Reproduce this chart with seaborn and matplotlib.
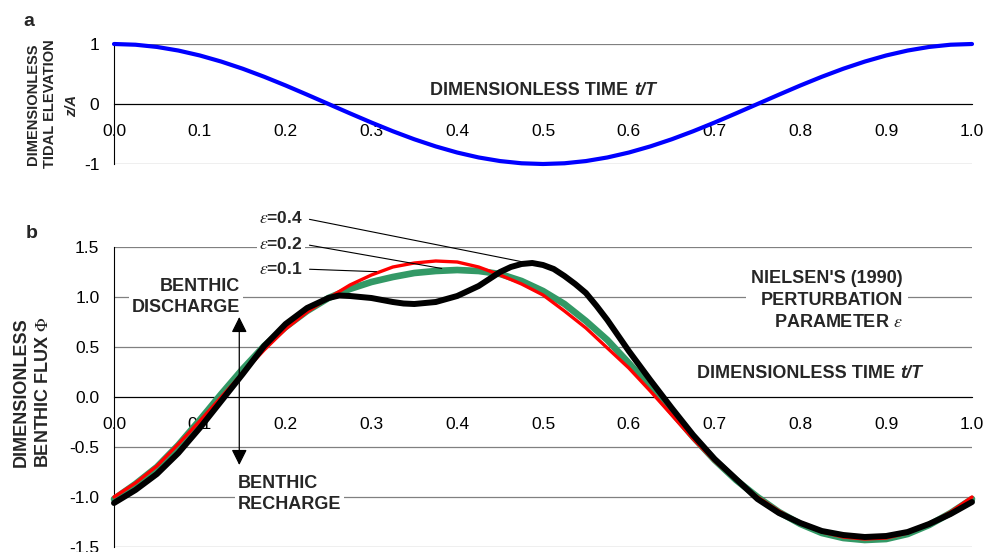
import numpy as np
import pandas as pd
import matplotlib
matplotlib.use("Agg")
import matplotlib.pyplot as plt
import seaborn as sns
from matplotlib.ticker import MultipleLocator, FormatStrFormatter

# ---- data -------------------------------------------------------------
time = [0.000, 0.025, 0.050, 0.075, 0.100, 0.125, 0.150, 0.175, 0.200, 0.225,
        0.250, 0.275, 0.300, 0.325, 0.350, 0.375, 0.400, 0.425, 0.450, 0.475,
        0.500, 0.525, 0.550, 0.575, 0.600, 0.625, 0.650, 0.675, 0.700, 0.725,
        0.750, 0.775, 0.800, 0.825, 0.850, 0.875, 0.900, 0.925, 0.950, 0.975,
        1.000]

# dimensionless tidal elevation z/A
tide = [1.000, 0.988, 0.951, 0.891, 0.809, 0.707, 0.588, 0.454, 0.309, 0.156,
        0.000, -0.156, -0.309, -0.454, -0.588, -0.707, -0.809, -0.891, -0.951, -0.988,
        -1.000, -0.988, -0.951, -0.891, -0.809, -0.707, -0.588, -0.454, -0.309, -0.156,
        0.000, 0.156, 0.309, 0.454, 0.588, 0.707, 0.809, 0.891, 0.951, 0.988,
        1.000]

# dimensionless benthic flux, epsilon = 0.1 and 0.2 (sampled on `time`)
flux_eps01 = [-1.00, -0.86, -0.69, -0.47, -0.24, 0.00, 0.24, 0.47, 0.68, 0.85,
              0.99, 1.12, 1.22, 1.30, 1.34, 1.36, 1.35, 1.30, 1.22, 1.13,
              1.02, 0.86, 0.69, 0.49, 0.29, 0.06, -0.18, -0.42, -0.64, -0.83,
              -1.00, -1.14, -1.26, -1.35, -1.40, -1.42, -1.41, -1.36, -1.27, -1.15,
              -1.00]
flux_eps02 = [-1.02, -0.87, -0.70, -0.48, -0.23, 0.03, 0.28, 0.51, 0.70, 0.86,
              0.99, 1.08, 1.15, 1.20, 1.24, 1.26, 1.27, 1.26, 1.23, 1.16,
              1.06, 0.93, 0.76, 0.57, 0.34, 0.10, -0.15, -0.40, -0.63, -0.83,
              -1.00, -1.15, -1.27, -1.36, -1.41, -1.43, -1.42, -1.37, -1.28, -1.16,
              -1.02]

# epsilon = 0.4 has more wiggles, so it is read more densely
time_eps04 = [0.000, 0.025, 0.050, 0.075, 0.100, 0.125, 0.150, 0.175, 0.200, 0.225,
              0.250, 0.2625, 0.275, 0.300, 0.325, 0.3375, 0.350, 0.375, 0.400, 0.425,
              0.4375, 0.450, 0.4625, 0.475, 0.4875, 0.500, 0.5125, 0.525, 0.5375, 0.550,
              0.5625, 0.575, 0.600, 0.625, 0.650, 0.675, 0.700, 0.725, 0.750, 0.775,
              0.800, 0.825, 0.850, 0.875, 0.900, 0.925, 0.950, 0.975, 1.000]
flux_eps04 = [-1.06, -0.93, -0.77, -0.56, -0.31, -0.04, 0.23, 0.51, 0.73, 0.89,
              0.99, 1.015, 1.01, 0.99, 0.95, 0.935, 0.93, 0.95, 1.01, 1.11,
              1.18, 1.25, 1.30, 1.33, 1.34, 1.32, 1.28, 1.21, 1.13, 1.04,
              0.91, 0.77, 0.46, 0.17, -0.11, -0.38, -0.62, -0.82, -1.02, -1.16,
              -1.26, -1.34, -1.38, -1.40, -1.39, -1.35, -1.27, -1.17, -1.05]

eps_labels = ["0.1", "0.2", "0.4"]
eps_colors = ["#ff0000", "#339966", "#000000"]

flux = pd.DataFrame({
    "t": time + time + time_eps04,
    "phi": flux_eps01 + flux_eps02 + flux_eps04,
    "eps": ["0.1"] * len(time) + ["0.2"] * len(time) + ["0.4"] * len(time_eps04),
})

# ---- style ------------------------------------------------------------
sns.set_style("white")
plt.rcParams["font.family"] = ["Liberation Sans", "DejaVu Sans"]
plt.rcParams["mathtext.fontset"] = "stix"
plt.rcParams["axes.unicode_minus"] = False

W, H = 983, 552
fig = plt.figure(figsize=(W / 100, H / 100), dpi=100)


def px_box(left, top, right, bottom):
    return [left / W, 1 - bottom / H, (right - left) / W, (bottom - top) / H]


ax_a = fig.add_axes(px_box(114, 44, 972, 164))
ax_b = fig.add_axes(px_box(114, 247, 972, 547))


def style_axes(ax, ylim, ymajor, yminor, yfmt):
    ax.set_xlim(0, 1)
    ax.set_ylim(*ylim)
    for s in ("top", "right"):
        ax.spines[s].set_visible(False)
    ax.spines["bottom"].set_position(("data", 0))
    for s in ("left", "bottom"):
        ax.spines[s].set_color("black")
        ax.spines[s].set_linewidth(0.8)
    ax.xaxis.set_major_locator(MultipleLocator(0.1))
    ax.xaxis.set_minor_locator(MultipleLocator(0.05))
    ax.yaxis.set_major_locator(MultipleLocator(ymajor))
    ax.yaxis.set_minor_locator(MultipleLocator(yminor))
    ax.xaxis.set_major_formatter(FormatStrFormatter("%.1f"))
    ax.yaxis.set_major_formatter(FormatStrFormatter(yfmt))
    ax.tick_params(axis="both", which="major", direction="inout", length=9,
                   width=0.8, color="black", labelsize=12.5, labelcolor="black")
    ax.tick_params(axis="both", which="minor", direction="out", length=3.6,
                   width=0.8, color="black")
    ax.tick_params(axis="x", which="major", pad=10)
    ax.tick_params(axis="y", which="major", pad=6)
    ax.yaxis.grid(True, which="major", color="#808080", linewidth=0.9)
    ax.xaxis.grid(False)
    ax.set_axisbelow(True)
    ax.set_xlabel("")
    ax.set_ylabel("")
    ax.set_facecolor("white")


style_axes(ax_a, (-1, 1), 1, 0.5, "%d")
style_axes(ax_b, (-1.5, 1.5), 0.5, 0.1, "%.1f")

# ---- panel a: tidal elevation ----------------------------------------
sns.lineplot(x=time, y=tide, ax=ax_a, color="#0000ff", linewidth=3,
             clip_on=False, zorder=3, solid_joinstyle="round")

ax_a.text(0.5995, 0.142, "DIMENSIONLESS TIME", ha="right", va="baseline",
          fontsize=13, fontweight="bold")
ax_a.annotate("t/T", xy=(0.5995, 0.142), xytext=(4, 0), textcoords="offset points",
              ha="left", va="baseline", fontsize=13, fontweight="bold",
              fontstyle="italic")

# ---- panel b: benthic flux -------------------------------------------
widths = {"0.1": 2.4, "0.2": 4.8, "0.4": 4.3}
for eps in ["0.2", "0.1", "0.4"]:
    sub = flux[flux["eps"] == eps]
    sns.lineplot(data=sub, x="t", y="phi", ax=ax_b,
                 color=eps_colors[eps_labels.index(eps)],
                 linewidth=widths[eps], clip_on=False, zorder=3,
                 solid_joinstyle="round")
ax_b.set_xlabel("")
ax_b.set_ylabel("")

ax_b.text(0.910, 0.185, "DIMENSIONLESS TIME", ha="right", va="baseline",
          fontsize=13, fontweight="bold")
ax_b.annotate("t/T", xy=(0.910, 0.185), xytext=(4, 0), textcoords="offset points",
              ha="left", va="baseline", fontsize=13, fontweight="bold",
              fontstyle="italic")

box = dict(boxstyle="square,pad=0.15", fc="white", ec="none")

# leader lines from epsilon labels to their curves
leaders = [("0.4", 1.79, (0.474, 1.355)),
           ("0.2", 1.53, (0.382, 1.285)),
           ("0.1", 1.28, (0.306, 1.253))]
for eps, ty, tip in leaders:
    ax_b.annotate(r"$\varepsilon$=" + eps, xy=tip, xytext=(0.220, ty),
                  textcoords="data", ha="right", va="center", fontsize=12.5,
                  fontweight="bold", bbox=box, annotation_clip=False, zorder=4,
                  arrowprops=dict(arrowstyle="-", color="black", lw=0.8,
                                  relpos=(1, 0.5), shrinkA=3, shrinkB=0))

ax_b.text(0.147, 1.003, "BENTHIC\nDISCHARGE", ha="right", va="center",
          multialignment="right", fontsize=13, fontweight="bold",
          linespacing=1.3, bbox=box, zorder=4)
ax_b.text(0.1445, -0.97, "BENTHIC\nRECHARGE", ha="left", va="center",
          multialignment="left", fontsize=13, fontweight="bold",
          linespacing=1.3, bbox=box, zorder=4)
ax_b.annotate("", xy=(0.146, 0.80), xytext=(0.146, -0.68),
              arrowprops=dict(arrowstyle="<|-|>,head_length=0.94,head_width=0.47",
                              mutation_scale=10, color="black", lw=0.9,
                              shrinkA=0, shrinkB=0), zorder=4)

ax_b.text(0.9196, 0.965, "NIELSEN'S (1990)\nPERTURBATION\nPARAMETER $\\varepsilon$",
          ha="right", va="center", multialignment="right", fontsize=13,
          fontweight="bold", linespacing=1.36,
          bbox=dict(boxstyle="square,pad=0.3", fc="white", ec="none"), zorder=4)

# ---- axis titles and panel letters -----------------------------------
fig.text(41.5 / W, 1 - 104 / H, "DIMENSIONLESS\nTIDAL ELEVATION", rotation=90,
         ha="center", va="center", multialignment="center", fontsize=10.5,
         fontweight="bold", linespacing=1.35)
fig.text(72 / W, 1 - 106 / H, "z/A", rotation=90, ha="center", va="center",
         fontsize=10.5, fontweight="bold", fontstyle="italic")
fig.text(32.5 / W, 1 - 392 / H, "DIMENSIONLESS\nBENTHIC FLUX $\\mathit{\\Phi}$",
         rotation=90, ha="center", va="center", multialignment="center",
         fontsize=13, fontweight="bold", linespacing=1.35)

fig.text(29 / W, 1 - 21 / H, "a", ha="center", va="center", fontsize=14,
         fontweight="bold")
fig.text(32 / W, 1 - 233 / H, "b", ha="center", va="center", fontsize=14,
         fontweight="bold")

fig.savefig("out.png", dpi=100, facecolor="white")
